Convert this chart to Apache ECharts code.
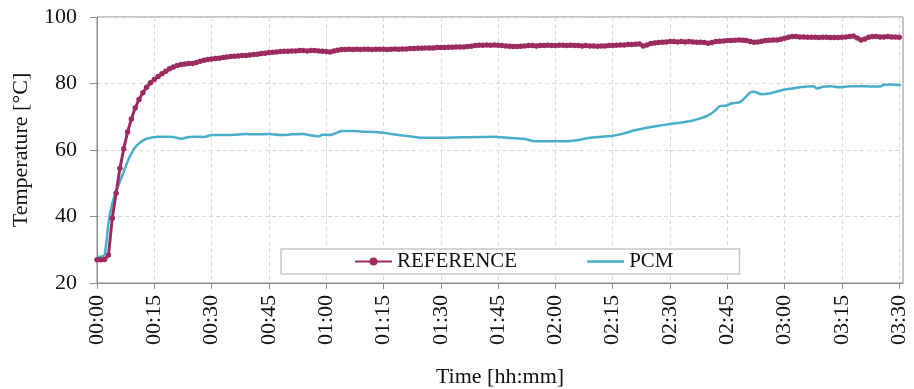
<!DOCTYPE html>
<html>
<head>
<meta charset="utf-8">
<script src="https://cdn.jsdelivr.net/npm/echarts@6/dist/echarts.min.js"></script>
<style>html,body{margin:0;padding:0;background:#fff}#c{width:914px;height:389px}</style>
</head>
<body>
<div id="c"></div>
<script>
// Time in minutes from start; REFERENCE sampled each minute
const refValues = [
27.0,27.0,27.1,28.4,39.5,47.0,54.5,60.4,65.4,69.3,
72.6,75.2,77.2,78.9,80.2,81.2,82.1,82.9,83.7,84.4,
85.0,85.4,85.7,85.9,86.0,86.0,86.3,86.7,87.0,87.2,
87.4,87.5,87.6,87.8,88.0,88.1,88.2,88.3,88.4,88.4,
88.6,88.7,88.8,89.0,89.1,89.3,89.4,89.5,89.6,89.7,
89.7,89.8,89.8,89.9,89.9,89.8,89.9,89.9,89.8,89.7,
89.6,89.5,89.8,90.0,90.2,90.2,90.3,90.2,90.3,90.2,
90.3,90.3,90.2,90.3,90.3,90.3,90.2,90.3,90.4,90.3,
90.4,90.4,90.5,90.5,90.6,90.6,90.7,90.7,90.7,90.8,
90.8,90.8,90.9,90.9,91.0,91.0,91.0,91.1,91.2,91.4,
91.5,91.5,91.6,91.5,91.6,91.5,91.4,91.3,91.2,91.1,
91.1,91.2,91.3,91.4,91.4,91.3,91.4,91.4,91.5,91.4,
91.4,91.5,91.5,91.4,91.5,91.4,91.4,91.3,91.4,91.3,
91.3,91.2,91.3,91.3,91.4,91.4,91.5,91.6,91.6,91.7,
91.7,91.8,91.9,91.3,91.6,92.0,92.2,92.3,92.4,92.5,
92.6,92.6,92.5,92.6,92.5,92.6,92.5,92.4,92.4,92.3,
92.1,92.3,92.6,92.7,92.8,92.9,92.9,93.0,93.1,93.0,
92.9,92.6,92.4,92.5,92.7,92.9,93.0,93.1,93.1,93.3,
93.6,93.9,94.1,94.1,94.0,94.0,93.9,93.9,93.9,93.8,
93.9,93.9,93.8,93.8,93.8,93.9,94.0,94.1,94.3,93.7,
93.1,93.4,93.9,94.1,94.1,94.0,94.0,94.1,94.0,94.0,
93.9
];
const pcmTimes = [0,1,2,3,4,5,6,7,8,9,10,11,12,13,14,16,18,20,22,24,26,28,30,33,36,39,42,45,48,51,54,56,58,59,61,63,64,67,70,73,76,79,82,85,90,95,100,104,108,112,114,116,120,123,126,129,132,135,138,141,144,147,150,153,156,158,160,162,163,165,166,168,169,171,172,174,176,178,180,182,184,186,187.5,188.5,190,192,194.5,197,200,203,205,206,208,210.5];
const pcmValues = [27.9,27.9,28.5,38.0,44.0,47.5,50.5,53.5,56.5,59.0,60.8,62.0,62.8,63.4,63.7,64.0,64.0,63.9,63.4,63.9,64.0,63.9,64.5,64.5,64.6,64.8,64.7,64.8,64.5,64.7,64.8,64.4,64.1,64.6,64.5,65.3,65.7,65.7,65.5,65.4,65.0,64.5,64.1,63.7,63.7,63.8,63.9,64.0,63.6,63.3,62.7,62.6,62.6,62.6,63.0,63.7,64.0,64.3,65.0,66.0,66.7,67.3,67.8,68.3,68.9,69.5,70.4,72.0,73.2,73.4,74.0,74.3,75.0,77.3,77.5,76.8,77.0,77.6,78.2,78.5,78.9,79.1,79.2,78.5,79.0,79.2,78.9,79.2,79.2,79.1,79.1,79.6,79.7,79.5];
const seriesNames = ['REFERENCE','PCM'];
const tickMinutes = [0,15,30,45,60,75,90,105,120,135,150,165,180,195,210];

const refData = refValues.map((v,i)=>[i,v]);
const pcmData = pcmTimes.map((t,i)=>[t,pcmValues[i]]);
const pad = n => (n<10?'0':'')+n;
const fmt = m => pad(Math.floor(m/60))+':'+pad(m%60);
const FONT = 'Liberation Serif';
const grey = '#8c8c8c';

const chart = echarts.init(document.getElementById('c'), null, {renderer:'canvas'});
chart.setOption({
  animation:false,
  backgroundColor:'#fff',
  grid:{left:97,right:11,top:17,bottom:106,show:true,borderColor:grey,borderWidth:1,outerBoundsMode:'none',containLabel:false},
  legend:{
    data:[{name:seriesNames[0]},{name:seriesNames[1],icon:'path://M0,0 L37,0 L37,2.5 L0,2.5 Z'}],
    left:281,top:249,
    backgroundColor:'#fff',borderColor:'#c8c8c8',borderWidth:1.5,
    padding:[2,66,2,73],itemGap:70,itemWidth:37,itemHeight:10,
    textStyle:{fontFamily:FONT,fontSize:21,color:'#111'}
  },
  xAxis:{
    type:'value',min:0,max:211,interval:15,
    name:'Time [hh:mm]',nameLocation:'middle',nameGap:83,
    nameTextStyle:{fontFamily:FONT,fontSize:22,color:'#111'},
    axisLine:{show:true,lineStyle:{color:grey,width:1}},
    axisTick:{show:true,length:6,lineStyle:{color:grey},customValues:tickMinutes},
    axisLabel:{rotate:90,margin:12,fontFamily:FONT,fontSize:22,color:'#111',customValues:tickMinutes,formatter:v=>fmt(v)},
    splitLine:{show:true,lineStyle:{color:'#d9d9d9',type:[4,3],width:1}}
  },
  yAxis:{
    type:'value',min:20,max:100,interval:20,
    name:'Temperature [°C]',nameLocation:'middle',nameGap:65,
    nameTextStyle:{fontFamily:FONT,fontSize:22,color:'#111'},
    axisLine:{show:true,lineStyle:{color:grey,width:1}},
    axisTick:{show:true,length:7,lineStyle:{color:grey}},
    axisLabel:{margin:20,fontFamily:FONT,fontSize:22,color:'#111'},
    splitLine:{show:true,lineStyle:{color:'#d9d9d9',type:[4,3],width:1}}
  },
  series:[
    {name:seriesNames[0],type:'line',data:refData,symbol:'circle',symbolSize:5.5,showAllSymbol:true,
     lineStyle:{color:'#9c2b60',width:3},itemStyle:{color:'#9c2b60'},z:3},
    {name:seriesNames[1],type:'line',data:pcmData,symbol:'none',smooth:0.2,
     lineStyle:{color:'#49aec9',width:2.5},itemStyle:{color:'#49aec9'},z:2}
  ]
});
</script>
</body>
</html>
